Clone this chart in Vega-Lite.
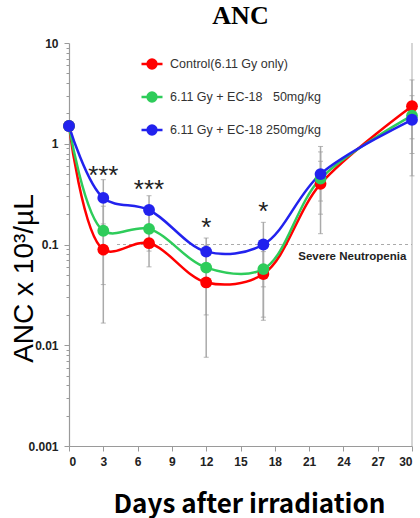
{
  "$schema": "https://vega.github.io/schema/vega-lite/v6.json",
  "autosize": "none",
  "width": 343,
  "height": 403,
  "padding": {"left": 69, "top": 43, "right": 8, "bottom": 72},
  "background": "white",
  "config": {"view": {"stroke": null}, "axis": {"labelOverlap": false}},
  "title": {"text": "ANC", "font": "Liberation Serif", "fontSize": 26, "fontWeight": "bold", "color": "#000", "anchor": "middle", "offset": 8},
  "datasets": {
    "pts": [
      {"series": "Control(6.11 Gy only)", "day": 0, "anc": 1.5},
      {"series": "Control(6.11 Gy only)", "day": 3, "anc": 0.089},
      {"series": "Control(6.11 Gy only)", "day": 7, "anc": 0.103},
      {"series": "Control(6.11 Gy only)", "day": 12, "anc": 0.042},
      {"series": "Control(6.11 Gy only)", "day": 17, "anc": 0.051},
      {"series": "Control(6.11 Gy only)", "day": 22, "anc": 0.40},
      {"series": "Control(6.11 Gy only)", "day": 30, "anc": 2.36},
      {"series": "6.11 Gy + EC-18\u00a0\u00a0 50mg/kg", "day": 0, "anc": 1.5},
      {"series": "6.11 Gy + EC-18\u00a0\u00a0 50mg/kg", "day": 3, "anc": 0.137},
      {"series": "6.11 Gy + EC-18\u00a0\u00a0 50mg/kg", "day": 7, "anc": 0.143},
      {"series": "6.11 Gy + EC-18\u00a0\u00a0 50mg/kg", "day": 12, "anc": 0.059},
      {"series": "6.11 Gy + EC-18\u00a0\u00a0 50mg/kg", "day": 17, "anc": 0.057},
      {"series": "6.11 Gy + EC-18\u00a0\u00a0 50mg/kg", "day": 22, "anc": 0.45},
      {"series": "6.11 Gy + EC-18\u00a0\u00a0 50mg/kg", "day": 30, "anc": 1.9},
      {"series": "6.11 Gy + EC-18 250mg/kg", "day": 0, "anc": 1.5},
      {"series": "6.11 Gy + EC-18 250mg/kg", "day": 3, "anc": 0.29},
      {"series": "6.11 Gy + EC-18 250mg/kg", "day": 7, "anc": 0.22},
      {"series": "6.11 Gy + EC-18 250mg/kg", "day": 12, "anc": 0.085},
      {"series": "6.11 Gy + EC-18 250mg/kg", "day": 17, "anc": 0.10},
      {"series": "6.11 Gy + EC-18 250mg/kg", "day": 22, "anc": 0.50},
      {"series": "6.11 Gy + EC-18 250mg/kg", "day": 30, "anc": 1.73}
    ],
    "err": [
      {"day": 3, "lo": 0.0166, "hi": 0.16},
      {"day": 3, "lo": 0.04, "hi": 0.24},
      {"day": 3, "lo": 0.14, "hi": 0.44},
      {"day": 7, "lo": 0.06, "hi": 0.146},
      {"day": 7, "lo": 0.086, "hi": 0.2},
      {"day": 7, "lo": 0.135, "hi": 0.305},
      {"day": 12, "lo": 0.0076, "hi": 0.076},
      {"day": 12, "lo": 0.02, "hi": 0.098},
      {"day": 12, "lo": 0.054, "hi": 0.116},
      {"day": 17, "lo": 0.0177, "hi": 0.085},
      {"day": 17, "lo": 0.019, "hi": 0.098},
      {"day": 17, "lo": 0.038, "hi": 0.166},
      {"day": 22, "lo": 0.128, "hi": 0.67},
      {"day": 22, "lo": 0.2, "hi": 0.83},
      {"day": 22, "lo": 0.27, "hi": 0.94},
      {"day": 30, "lo": 0.48, "hi": 4.3},
      {"day": 30, "lo": 0.8, "hi": 3.0},
      {"day": 30, "lo": 1.12, "hi": 2.6}
    ],
    "stars": [
      {"day": 3, "y": 0.48, "label": "***"},
      {"day": 7, "y": 0.35, "label": "***"},
      {"day": 12, "y": 0.145, "label": "*"},
      {"day": 17, "y": 0.21, "label": "*"}
    ]
  },
  "layer": [
    {
      "data": {"values": [{"x": 30, "y": 0.001, "y2": 10}]},
      "mark": {"type": "rule", "color": "#bbbbbb", "strokeWidth": 1.2},
      "encoding": {
        "x": {
          "field": "x", "type": "quantitative",
          "scale": {"domain": [0, 30], "nice": false, "zero": false},
          "axis": {
            "values": [0, 3, 6, 9, 12, 15, 18, 21, 24, 27, 30],
            "tickCount": 30,
            "labelOverlap": false,
            "grid": false, "domainColor": "#9a9a9a", "domainWidth": 1.2, "tickColor": "#9a9a9a", "tickSize": 5,
            "labelFont": "Liberation Sans", "labelFontWeight": "bold", "labelFontSize": 12, "labelColor": "#222", "labelPadding": 5,
            "title": "Days after irradiation", "titleFont": "Noto Sans CJK KR", "titleFontWeight": "bold", "titleFontSize": 26, "titleColor": "#000",
            "titleX": 180, "titleY": 45
          }
        },
        "y": {"field": "y", "type": "quantitative"}, "y2": {"field": "y2"}}
    },
    {
      "data": {"values": [{"x": 4.2, "x2": 30, "y": 0.1}]},
      "mark": {"type": "rule", "color": "#aaaaaa", "strokeWidth": 1, "strokeDash": [3, 3]},
      "encoding": {"x": {"field": "x", "type": "quantitative"}, "x2": {"field": "x2"}, "y": {"field": "y", "type": "quantitative"}}
    },
    {
      "data": {"values": [{"x": 29.5, "y": 0.076, "label": "Severe Neutropenia"}]},
      "mark": {"type": "text", "align": "right", "baseline": "middle", "font": "Liberation Sans", "fontWeight": "bold", "fontSize": 11.5, "color": "#222"},
      "encoding": {"x": {"field": "x", "type": "quantitative"}, "y": {"field": "y", "type": "quantitative"}, "text": {"field": "label"}}
    },
    {
      "data": {"name": "err"},
      "mark": {"type": "rule", "color": "#aaaaaa", "strokeWidth": 1.5},
      "encoding": {"x": {"field": "day", "type": "quantitative"}, "y": {"field": "lo", "type": "quantitative"}, "y2": {"field": "hi"}}
    },
    {
      "data": {"name": "err"},
      "mark": {"type": "tick", "color": "#999999", "size": 5, "thickness": 1, "orient": "horizontal"},
      "encoding": {"x": {"field": "day", "type": "quantitative"}, "y": {"field": "lo", "type": "quantitative"}}
    },
    {
      "data": {"name": "err"},
      "mark": {"type": "tick", "color": "#999999", "size": 5, "thickness": 1, "orient": "horizontal"},
      "encoding": {"x": {"field": "day", "type": "quantitative"}, "y": {"field": "hi", "type": "quantitative"}}
    },
    {
      "data": {"name": "pts"},
      "mark": {"type": "line", "interpolate": "catmull-rom", "strokeWidth": 2.5},
      "encoding": {
        "x": {"field": "day", "type": "quantitative"},
        "y": {"field": "anc", "type": "quantitative"},
        "color": {"field": "series", "type": "nominal"}
      }
    },
    {
      "data": {"name": "pts"},
      "mark": {"type": "point", "filled": true, "opacity": 1, "size": 140},
      "encoding": {
        "x": {"field": "day", "type": "quantitative"},
        "y": {
          "field": "anc", "type": "quantitative",
          "scale": {"type": "log", "domain": [0.001, 10], "nice": false},
          "axis": {
            "values": [0.001, 0.002, 0.003, 0.004, 0.005, 0.006, 0.007, 0.008, 0.009, 0.01, 0.02, 0.03, 0.04, 0.05, 0.06, 0.07, 0.08, 0.09, 0.1, 0.2, 0.3, 0.4, 0.5, 0.6, 0.7, 0.8, 0.9, 1, 2, 3, 4, 5, 6, 7, 8, 9, 10],
            "tickCount": 40,
            "labelExpr": "abs(log(datum.value)/LN10 - round(log(datum.value)/LN10)) < 0.000001 ? datum.label : ''",
            "tickSize": {"condition": {"test": "abs(log(datum.value)/LN10 - round(log(datum.value)/LN10)) < 0.000001", "value": 5}, "value": 3},
            "grid": false, "domainColor": "#9a9a9a", "domainWidth": 1.2, "tickColor": "#9a9a9a",
            "labelFont": "Liberation Sans", "labelFontWeight": "bold", "labelFontSize": 12, "labelColor": "#222", "labelPadding": 6,
            "labelOverlap": false,
            "title": "ANC x 10\u00b3/\u00b5L", "titleFont": "Liberation Sans", "titleFontWeight": "normal", "titleFontSize": 28, "titleColor": "#000",
            "titleX": -31, "titleY": 235
          }
        },
        "color": {
          "field": "series", "type": "nominal",
          "scale": {"domain": ["Control(6.11 Gy only)", "6.11 Gy + EC-18\u00a0\u00a0 50mg/kg", "6.11 Gy + EC-18 250mg/kg"], "range": ["#ff0000", "#2ecc5a", "#2222ee"]},
          "legend": {
            "orient": "none", "legendX": 71, "legendY": 9, "padding": 0, "title": null,
            "symbolType": "M-1,0H1M-0.42,0A0.42,0.42 0 1,0 0.42,0A0.42,0.42 0 1,0 -0.42,0Z",
            "symbolSize": 441, "symbolStrokeWidth": 2.5,
            "labelFont": "Liberation Sans", "labelFontSize": 12.5, "labelColor": "#333", "labelOffset": 6,
            "rowPadding": 11, "labelLimit": 300,
            "encode": {"symbols": {"update": {"stroke": {"scale": "color", "field": "value"}, "fill": {"scale": "color", "field": "value"}, "opacity": {"value": 1}}}}
          }
        }
      }
    },
    {
      "data": {"name": "stars"},
      "mark": {"type": "text", "font": "Liberation Sans", "fontSize": 26, "baseline": "middle", "align": "center", "color": "#222"},
      "encoding": {"x": {"field": "day", "type": "quantitative"}, "y": {"field": "y", "type": "quantitative"}, "text": {"field": "label"}}
    }
  ]
}
